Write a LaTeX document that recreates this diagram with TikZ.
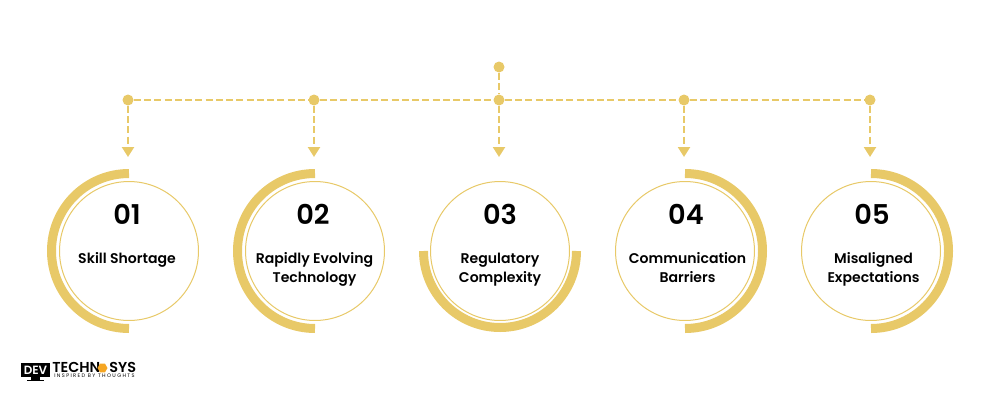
\documentclass[tikz,border=0pt]{standalone}
\usepackage{fontspec}
\setmainfont{Poppins}[BoldFont={Poppins SemiBold}]
\usetikzlibrary{arrows.meta, shapes.geometric}
\definecolor{gold}{HTML}{E8C968}
\definecolor{hexorange}{HTML}{F5A623}

\begin{document}
\begin{tikzpicture}[x=0.02cm, y=0.02cm,
    dot/.style={circle, fill=gold, inner sep=0pt, minimum size=0.22cm},
    link/.style={draw=gold, dash pattern=on 0.14cm off 0.065cm, line width=0.045cm},
    drop/.style={link, -{Triangle[width=0.24cm, length=0.2cm]}},
    disc/.style={circle, draw=gold, line width=0.02cm, fill=white, minimum size=2.78cm, inner sep=0pt},
    ring/.style={draw=gold, line width=0.18cm},
    num/.style={font=\fontsize{15.5}{18}\selectfont\bfseries, text=black, anchor=base, inner sep=0pt},
    label/.style={font=\fontsize{8}{10.8}\selectfont\bfseries, align=center, text=black, anchor=base, inner sep=0pt},
    brand/.style={font=\fontsize{8.2}{8.2}\selectfont\bfseries, anchor=base west, inner sep=0pt, text height=4pt, text depth=0pt}]
    \useasboundingbox (0,0) rectangle (1000,400);
    % connectors
    \node[dot] (top) at (499,333) {};
    \node[dot] (hubA) at (128,300) {};
    \node[dot] (hubB) at (314,300) {};
    \node[dot] (hubC) at (499,300) {};
    \node[dot] (hubD) at (684,300) {};
    \node[dot] (hubE) at (870,300) {};
    \coordinate (tipA) at (128,243); \coordinate (tipB) at (314,243); \coordinate (tipC) at (499,243);
    \coordinate (tipD) at (684,243); \coordinate (tipE) at (870,243);
    \draw[link] (top) -- (hubC);
    \draw[link] (hubA) -- (hubB);
    \draw[link] (hubB) -- (hubC);
    \draw[link] (hubC) -- (hubD);
    \draw[link] (hubD) -- (hubE);
    \draw[drop] (hubA) -- (tipA);
    \draw[drop] (hubB) -- (tipB);
    \draw[drop] (hubC) -- (tipC);
    \draw[drop] (hubD) -- (tipD);
    \draw[drop] (hubE) -- (tipE);
    % half rings
    \draw[ring] (129,226.5) arc (90:270:77.5);
    \draw[ring] (315,226.5) arc (90:270:77.5);
    \draw[ring] (423.5,149) arc (180:360:76.5);
    \draw[ring] (685,226.5) arc (90:-90:77.5);
    \draw[ring] (871,226.5) arc (90:-90:77.5);
    % circles
    \node[disc] (discA) at (129,149) {};
    \node[disc] (discB) at (315,149) {};
    \node[disc] (discC) at (500,149) {};
    \node[disc] (discD) at (685,149) {};
    \node[disc] (discE) at (871,149) {};
    \node[num] (numA) at (127,176) {01};
    \node[num] (numB) at (313,176) {02};
    \node[num] (numC) at (500,176) {03};
    \node[num] (numD) at (686,176) {04};
    \node[num] (numE) at (872,176) {05};
    \node[label] (textA) at (127,137) {Skill Shortage};
    \node[label] (textB) at (314.5,118) {Rapidly Evolving\\Technology};
    \node[label] (textC) at (500,118) {Regulatory\\Complexity};
    \node[label] (textD) at (687.5,118) {Communication\\Barriers};
    \node[label] (textE) at (873.5,118) {Misaligned\\Expectations};
    % logo
    \fill[black] (21,23) rectangle (50,37);
    \fill[black] (31,20) rectangle (40,23);
    \fill[black] (27,19) rectangle (44,20.5);
    \node[font=\fontsize{6.8}{7}\selectfont\bfseries, text=white] (logoDev) at (35.5,30) {DEV};
    \node[brand] (logoTech) at (52,28) {TECHN};
    \node[regular polygon, regular polygon sides=6, fill=hexorange, inner sep=0pt, minimum size=0.2cm] (logoHex) at (102.5,32) {};
    \node[brand] (logoSys) at (109,28) {SYS};
    \node[font=\fontsize{2.9}{3}\selectfont, anchor=base west, inner sep=0pt, text height=2pt, text depth=0pt] (logoTag) at (54,22.5) {I N S P I R E D\ \ B Y\ \ T H O U G H T S};
\end{tikzpicture}
\end{document}
